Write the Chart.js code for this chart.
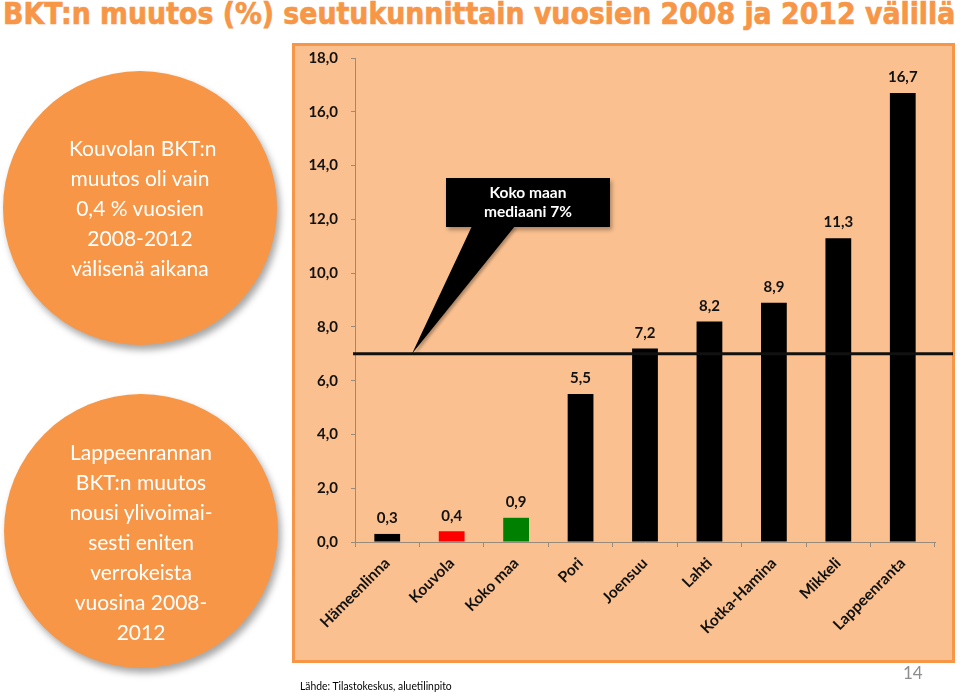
<!DOCTYPE html>
<html>
<head>
<meta charset="utf-8">
<script src="https://cdn.jsdelivr.net/npm/chart.js@4.4.0/dist/chart.umd.min.js"></script>
<style>
    body {
        margin: 0;
        width: 960px;
        height: 693px;
        background: #ffffff;
        position: relative;
        overflow: hidden;
        font-family: Lato, "Open Sans", sans-serif;
    }
    #title {
        position: absolute;
        left: 3px;
        top: -4px;
        white-space: nowrap;
        font-family: "DejaVu Sans", sans-serif;
        font-weight: 900;
        font-size: 30px;
        line-height: 36px;
        color: #F79646;
        -webkit-text-stroke: 0.7px #F79646;
        transform-origin: 0 0;
    }
    #box {
        position: absolute;
        left: 292px;
        top: 43px;
        width: 657px;
        height: 614px;
        border: 3px solid #F79646;
        background: #FAC090;
        z-index: 1;
    }
    #chartDiv {
        position: absolute;
        left: 0;
        top: 0;
        width: 960px;
        height: 693px;
        z-index: 2;
    }
    .circle {
        position: absolute;
        width: 274px;
        height: 274px;
        border-radius: 50%;
        background: #F79646;
        box-shadow: 3px 5px 7px rgba(0, 0, 0, 0.35);
        color: #ffffff;
        font-size: 21px;
        line-height: 30px;
        display: flex;
        align-items: center;
        justify-content: center;
        text-align: center;
        z-index: 3;
    }
    #callout {
        position: absolute;
        left: 446px;
        top: 178px;
        width: 164px;
        height: 49px;
        background: #000000;
        color: #ffffff;
        font-weight: bold;
        font-size: 15.5px;
        line-height: 19px;
        text-align: center;
        padding-top: 5px;
        box-sizing: border-box;
        box-shadow: 2px 3px 4px rgba(0, 0, 0, 0.3);
        z-index: 4;
    }
    #source {
        position: absolute;
        left: 300px;
        top: 679px;
        font-size: 11.5px;
        color: #000000;
        transform: scaleX(0.9);
        transform-origin: 0 0;
        white-space: nowrap;
        z-index: 3;
    }
    #page {
        position: absolute;
        left: 903px;
        top: 662px;
        font-size: 17px;
        color: #8c8c8c;
        z-index: 3;
    }
</style>
</head>
<body>
<div id="title">BKT:n muutos (%) seutukunnittain vuosien 2008 ja 2012 välillä</div>
<div id="box"></div>
<div id="chartDiv"><canvas id="myChart" width="960" height="693"></canvas></div>
<div class="circle" style="left:3px; top:71px;"><div>&nbsp;Kouvolan BKT:n<br>muutos oli vain<br>0,4 % vuosien<br>2008-2012<br>välisenä aikana</div></div>
<div class="circle" style="left:4px; top:394px;"><div style="margin-top:22px;">Lappeenrannan<br>BKT:n muutos<br>nousi ylivoimai-<br>sesti eniten<br>verrokeista<br>vuosina 2008-<br>2012</div></div>
<div id="callout">Koko maan<br>mediaani 7%</div>
<div id="source">Lähde: Tilastokeskus, aluetilinpito</div>
<div id="page">14</div>

<script>
// data
const categories = ["Hämeenlinna", "Kouvola", "Koko maa", "Pori", "Joensuu", "Lahti", "Kotka-Hamina", "Mikkeli", "Lappeenranta"];
const changePct = [0.3, 0.4, 0.9, 5.5, 7.2, 8.2, 8.9, 11.3, 16.7];
const barColors = ["#000000", "#FF0000", "#008000", "#000000", "#000000", "#000000", "#000000", "#000000", "#000000"];
const yTicks = [0, 2, 4, 6, 8, 10, 12, 14, 16, 18];
const medianValue = 7;

function fmt(v) {
    return Number(v).toFixed(1).replace(".", ",");
}

// stretch the title so it fills the slide width like the original
const title = document.getElementById("title");
title.style.transform = "scaleX(" + (952 / title.scrollWidth) + ")";

// numbers above bars
const valueLabels = {
    id: "valueLabels",
    afterDatasetsDraw(chart) {
        const ctx = chart.ctx;
        const meta = chart.getDatasetMeta(0);
        ctx.save();
        ctx.font = "bold 15px Lato, 'Open Sans', sans-serif";
        ctx.fillStyle = "#111111";
        ctx.textAlign = "center";
        ctx.textBaseline = "bottom";
        meta.data.forEach(function (bar, i) {
            ctx.fillText(fmt(changePct[i]), bar.x, bar.y - 8);
        });
        ctx.restore();
    }
};

// median line and the callout pointer
const medianLine = {
    id: "medianLine",
    afterDatasetsDraw(chart) {
        const ctx = chart.ctx;
        const area = chart.chartArea;
        const y = chart.scales.y.getPixelForValue(medianValue);
        ctx.save();
        ctx.strokeStyle = "#111111";
        ctx.lineWidth = 3;
        ctx.beginPath();
        ctx.moveTo(area.left - 2, y);
        ctx.lineTo(area.right + 18, y);
        ctx.stroke();

        // pointer from the callout box down to the line
        ctx.fillStyle = "#000000";
        ctx.shadowColor = "rgba(0,0,0,0.3)";
        ctx.shadowOffsetX = 2;
        ctx.shadowOffsetY = 2;
        ctx.shadowBlur = 3;
        ctx.beginPath();
        ctx.moveTo(472, 226);
        ctx.lineTo(515, 226);
        ctx.lineTo(412, y);
        ctx.closePath();
        ctx.fill();
        ctx.restore();
    }
};

const canvas = document.getElementById("myChart");

new Chart(canvas, {
    type: "bar",
    data: {
        labels: categories,
        datasets: [
            {
                data: changePct,
                backgroundColor: barColors,
                barPercentage: 0.4,
                categoryPercentage: 1.0
            }
        ]
    },
    options: {
        responsive: false,
        animation: false,
        layout: {
            padding: { left: 300, right: 25, top: 58, bottom: 30 }
        },
        plugins: {
            legend: { display: false },
            tooltip: { enabled: false }
        },
        scales: {
            x: {
                afterFit: function (scale) { scale.height = 121; },
                grid: {
                    display: true,
                    drawOnChartArea: false,
                    drawTicks: true,
                    tickLength: 5,
                    color: "#9a8a7a",
                    offset: true
                },
                border: { display: true, color: "#9a8a7a" },
                ticks: {
                    maxRotation: 45,
                    minRotation: 45,
                    autoSkip: false,
                    padding: 7,
                    color: "#111111",
                    font: { family: "Lato, 'Open Sans', sans-serif", size: 15.5, weight: "bold" }
                }
            },
            y: {
                min: yTicks[0],
                max: yTicks[yTicks.length - 1],
                afterFit: function (scale) { scale.width = 55; },
                afterBuildTicks: function (scale) {
                    scale.ticks = yTicks.map(function (v) { return { value: v }; });
                },
                grid: {
                    display: true,
                    drawOnChartArea: false,
                    drawTicks: true,
                    tickLength: 4,
                    color: "#9a8a7a"
                },
                border: { display: true, color: "#9a8a7a" },
                ticks: {
                    padding: 13,
                    color: "#111111",
                    font: { family: "Lato, 'Open Sans', sans-serif", size: 15, weight: "bold" },
                    callback: function (v) { return fmt(v); }
                }
            }
        }
    },
    plugins: [valueLabels, medianLine]
});
</script>
</body>
</html>
